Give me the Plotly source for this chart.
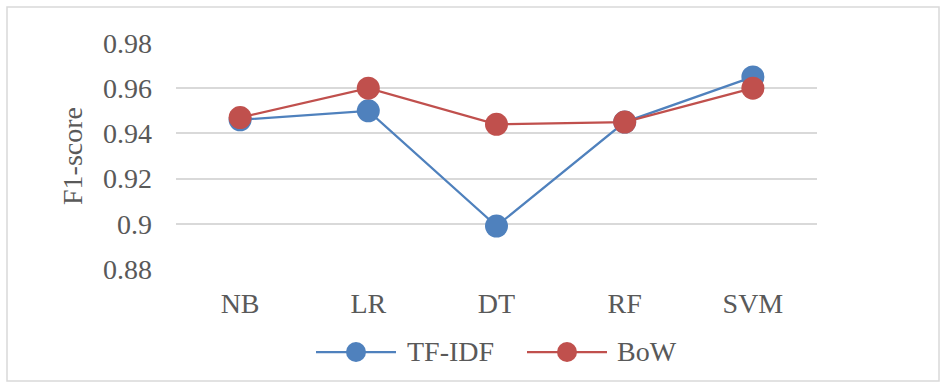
import plotly.graph_objects as go

categories = ["NB", "LR", "DT", "RF", "SVM"]
tfidf = [0.946, 0.950, 0.899, 0.945, 0.965]
bow = [0.947, 0.960, 0.944, 0.945, 0.960]
series_names = ["TF-IDF", "BoW"]
series_colors = ["#4F81BD", "#C0504D"]
y_ticks = [0.88, 0.9, 0.92, 0.94, 0.96, 0.98]
y_tick_text = ["0.88", "0.9", "0.92", "0.94", "0.96", "0.98"]

FONT = "Liberation Serif"
TXT = "#595959"
FS = 28

W, H = 945, 388
L, R, T, B = 176, 128, 43, 119
pw, ph = W - L - R, H - T - B

def px_x(p):
    return (p - L) / pw

def px_y(p):
    return (H - B - p) / ph

fig = go.Figure()
for name, vals, col in zip(series_names, [tfidf, bow], series_colors):
    fig.add_trace(go.Scatter(
        x=categories, y=vals, name=name, mode="lines+markers",
        line=dict(color=col, width=2.25),
        marker=dict(color=col, size=23, line=dict(width=0)),
        showlegend=False,
    ))

# custom legend (Excel-like long symbol lines)
shapes = [dict(type="rect", xref="paper", yref="paper",
               x0=px_x(7), x1=px_x(939), y0=px_y(381), y1=px_y(7),
               line=dict(color="#D9D9D9", width=1.5), layer="below")]
annotations = []
leg_y = 352
leg_items = [(316, 396, 356, 405), (527, 607, 567, 615)]
for (lx0, lx1, mx, tx), name, col in zip(leg_items, series_names, series_colors):
    shapes.append(dict(type="line", xref="paper", yref="paper",
                       x0=px_x(lx0), x1=px_x(lx1), y0=px_y(leg_y), y1=px_y(leg_y),
                       line=dict(color=col, width=2.25)))
    shapes.append(dict(type="circle", xref="paper", yref="paper",
                       xsizemode="pixel", ysizemode="pixel",
                       xanchor=px_x(mx), yanchor=px_y(leg_y),
                       x0=-10, x1=10, y0=-10, y1=10,
                       fillcolor=col, line=dict(width=0)))
    annotations.append(dict(xref="paper", yref="paper", x=px_x(tx), y=px_y(leg_y - 1),
                            xanchor="left", yanchor="middle", showarrow=False,
                            text=name, font=dict(family=FONT, size=FS, color=TXT)))

fig.update_layout(
    width=W, height=H,
    margin=dict(l=L, r=R, t=T, b=B, autoexpand=False),
    paper_bgcolor="white", plot_bgcolor="white",
    font=dict(family=FONT, size=FS, color=TXT),
    showlegend=False,
    xaxis=dict(range=[-0.5, len(categories) - 0.5],
               showgrid=False, zeroline=False, showline=False, automargin=False,
               ticks="outside", ticklen=0, ticklabelstandoff=9,
               tickfont=dict(family=FONT, size=FS, color=TXT)),
    yaxis=dict(range=[0.88, 0.98], tickvals=y_ticks, ticktext=y_tick_text,
               showgrid=True, gridcolor="#D9D9D9", gridwidth=1.5, automargin=False,
               zeroline=False, showline=False, ticklabelstandoff=23,
               tickfont=dict(family=FONT, size=FS, color=TXT),
               title=dict(text="F1-score", standoff=12,
                          font=dict(family=FONT, size=FS, color=TXT))),
    shapes=shapes,
    annotations=annotations,
)

fig.write_html("out.html", config={"displayModeBar": False},
               post_script="document.body.style.margin='0px';")
